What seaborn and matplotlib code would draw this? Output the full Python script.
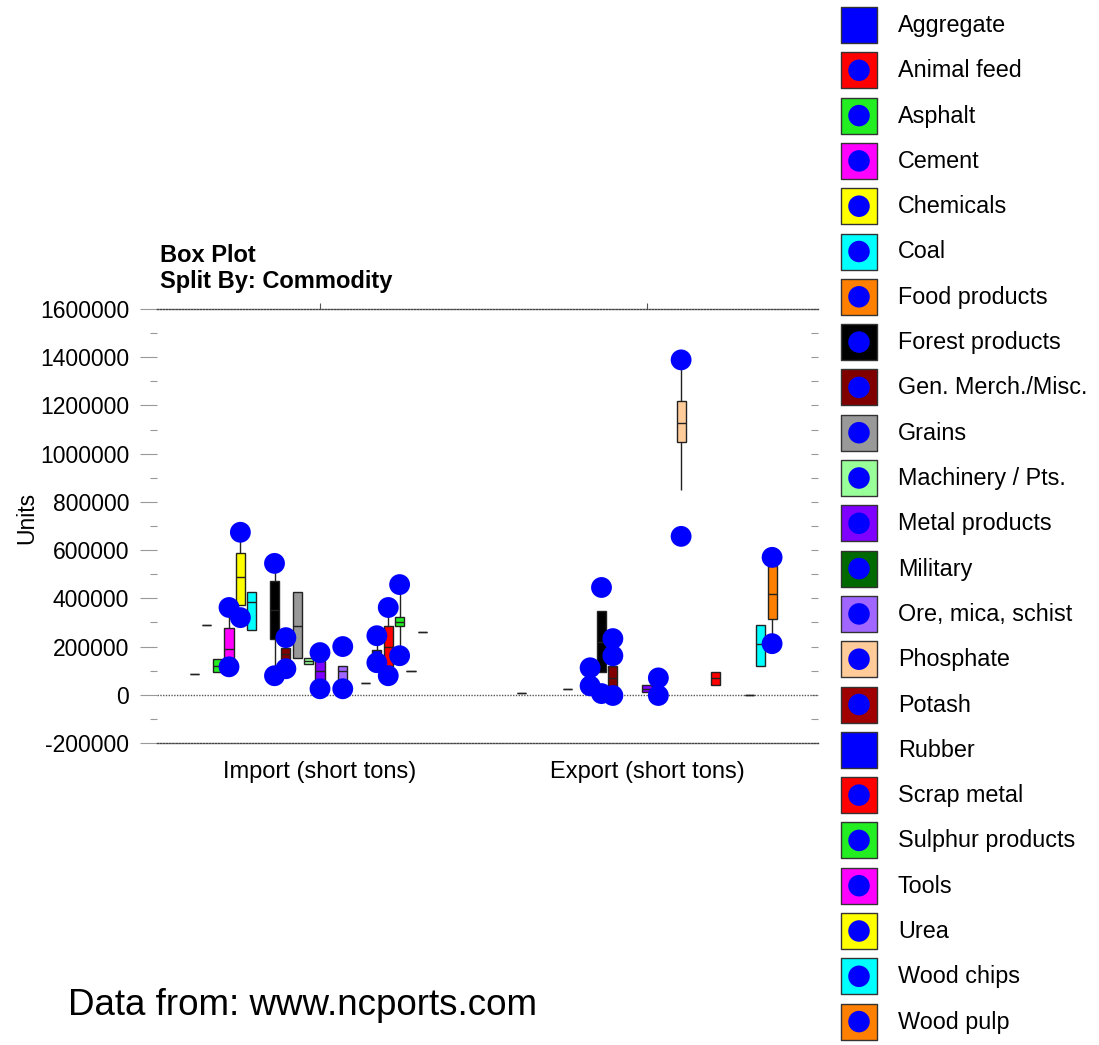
import numpy as np
import pandas as pd
import matplotlib
matplotlib.use("Agg")
import matplotlib.pyplot as plt
import seaborn as sns
from matplotlib.ticker import MultipleLocator, FuncFormatter

# ---------------- data ----------------
commodities = ["Aggregate", "Animal feed", "Asphalt", "Cement", "Chemicals", "Coal",
               "Food products", "Forest products", "Gen. Merch./Misc.", "Grains",
               "Machinery / Pts.", "Metal products", "Military", "Ore, mica, schist",
               "Phosphate", "Potash", "Rubber", "Scrap metal", "Sulphur products",
               "Tools", "Urea", "Wood chips", "Wood pulp"]
colors = ["#0000FF", "#FF0000", "#22EE22", "#FF00FF", "#FFFF00", "#00FFFF",
          "#FF8000", "#000000", "#800000", "#999999",
          "#99FF99", "#8000FF", "#006A00", "#A066FF",
          "#FFCC99", "#A00000", "#0000FF", "#FF0000", "#22EE22",
          "#FF00FF", "#FFFF00", "#00FFFF", "#FF8000"]
groups = ["Import (short tons)", "Export (short tons)"]

# Import boxes: lower whisker, Q1, median, Q3, upper whisker
imp_names = ["Aggregate", "Animal feed", "Asphalt", "Cement", "Chemicals", "Coal",
             "Forest products", "Gen. Merch./Misc.", "Grains", "Machinery / Pts.",
             "Metal products", "Ore, mica, schist", "Potash", "Rubber", "Scrap metal",
             "Sulphur products", "Tools", "Urea"]
imp_lo  = [87000, 291000,  96000, 116000, 374000, 270000,  87000, 150000, 154000, 129000,
           60000,  58000, 50000, 140000, 100000, 175000, 100000, 262000]
imp_q1  = [87000, 291000,  96000, 116000, 374000, 270000, 233000, 150000, 154000, 129000,
           60000,  58000, 50000, 140000, 121000, 287000, 100000, 262000]
imp_med = [87000, 291000, 120000, 191000, 487000, 383000, 350000, 170000, 287000, 141000,
           100000, 100000, 50000, 165000, 200000, 300000, 100000, 262000]
imp_q3  = [87000, 291000, 150000, 279000, 586000, 428000, 470000, 196000, 428000, 154000,
           140000, 121000, 50000, 187000, 287000, 324000, 100000, 262000]
imp_hi  = [87000, 291000, 150000, 330000, 650000, 428000, 520000, 196000, 428000, 154000,
           140000, 121000, 50000, 230000, 340000, 440000, 100000, 262000]

# Import outliers
imp_out_names = ["Cement", "Cement", "Chemicals", "Chemicals", "Forest products", "Forest products",
                 "Gen. Merch./Misc.", "Gen. Merch./Misc.", "Metal products", "Metal products",
                 "Ore, mica, schist", "Ore, mica, schist", "Rubber", "Rubber",
                 "Scrap metal", "Scrap metal", "Sulphur products", "Sulphur products"]
imp_out_vals = [362000, 116000, 674000, 320000, 545000, 79000,
                237000, 108000, 175000, 25000,
                200000, 25000, 245000, 133000,
                362000, 79000, 457000, 162000]

# Export boxes
exp_names = ["Aggregate", "Chemicals", "Forest products", "Gen. Merch./Misc.", "Metal products",
             "Phosphate", "Scrap metal", "Urea", "Wood chips", "Wood pulp"]
exp_lo  = [8000, 25000,  96000,  29000, 12000,  848000, 42000, -2000, 121000, 230000]
exp_q1  = [8000, 25000,  96000,  29000, 12000, 1048000, 42000, -2000, 121000, 316000]
exp_med = [8000, 25000, 220000,  70000, 25000, 1127000, 70000, -2000, 212000, 420000]
exp_q3  = [8000, 25000, 349000, 120000, 42000, 1218000, 96000, -2000, 291000, 536000]
exp_hi  = [8000, 25000, 349000, 120000, 42000, 1375000, 96000, -2000, 291000, 555000]

# Export outliers
exp_out_names = ["Food products", "Food products", "Forest products", "Forest products",
                 "Gen. Merch./Misc.", "Gen. Merch./Misc.", "Gen. Merch./Misc.",
                 "Military", "Military", "Phosphate", "Phosphate", "Wood pulp", "Wood pulp"]
exp_out_vals = [112000, 37000, 445000, 5000,
                233000, 162000, -3000,
                70000, -3000, 1389000, 657000, 570000, 212000]

# ---------------- build tables ----------------
rows = []
for g, names, lo, q1, md, q3, hi in [
        (groups[0], imp_names, imp_lo, imp_q1, imp_med, imp_q3, imp_hi),
        (groups[1], exp_names, exp_lo, exp_q1, exp_med, exp_q3, exp_hi)]:
    for n, a, b, c, d, e in zip(names, lo, q1, md, q3, hi):
        for v in (a, b, c, d, e):
            rows.append((g, n, v))
box_df = pd.DataFrame(rows, columns=["Direction", "Commodity", "Units"])

out_rows = [(groups[0], n, v) for n, v in zip(imp_out_names, imp_out_vals)] + \
           [(groups[1], n, v) for n, v in zip(exp_out_names, exp_out_vals)]
out_df = pd.DataFrame(out_rows, columns=["Direction", "Commodity", "Units"])

# ---------------- style ----------------
sns.set_theme(style="white")
plt.rcParams["font.family"] = ["Liberation Sans", "DejaVu Sans"]
plt.rcParams["text.color"] = "black"
plt.rcParams["axes.labelcolor"] = "black"
plt.rcParams["xtick.labelcolor"] = "black"
plt.rcParams["ytick.labelcolor"] = "black"

W, H = 1099, 1045
fig = plt.figure(figsize=(W / 100, H / 100), dpi=100)
fig.patch.set_facecolor("white")
ax = fig.add_axes([157 / W, 1 - 743 / H, 661 / W, 434 / H])

palette = dict(zip(commodities, colors))
sns.boxplot(data=box_df, x="Direction", y="Units", hue="Commodity",
            order=groups, hue_order=commodities, palette=palette,
            whis=(0, 100), dodge=True, width=0.8, gap=0.2,
            linewidth=1, linecolor="#222222", saturation=1,
            showfliers=False, showcaps=False, legend=False, ax=ax)
sns.stripplot(data=out_df, x="Direction", y="Units", hue="Commodity",
              order=groups, hue_order=commodities,
              palette={c: "#0000FF" for c in commodities},
              dodge=True, jitter=False, size=15, linewidth=0,
              legend=False, ax=ax, zorder=5)

ax.axhline(0, color="#555555", lw=1, ls=(0, (1, 1)), zorder=0.5)
ax.set_xlim(-0.4985, 1.523)
ax.set_ylim(-200000, 1600000)
ax.set_xlabel("")
ax.set_ylabel("")
ax.yaxis.set_major_locator(MultipleLocator(200000))
ax.yaxis.set_minor_locator(MultipleLocator(100000))
ax.yaxis.set_major_formatter(FuncFormatter(lambda v, p: f"{int(round(v))}"))
for s in ["left", "right"]:
    ax.spines[s].set_visible(False)
for s in ["top", "bottom"]:
    ax.spines[s].set_linestyle((0, (1, 1.2)))
    ax.spines[s].set_color("#444444")
    ax.spines[s].set_linewidth(1)
ax.tick_params(axis="y", which="major", left=True, direction="out", length=12,
               width=0.8, color="#999999", labelsize=16.5, pad=8)
ax.tick_params(axis="y", which="minor", left=True, direction="out", length=5,
               width=0.8, color="#999999")
ax.tick_params(axis="x", bottom=False, top=True, direction="out", length=4,
               width=0.8, color="#555555", labelsize=17, pad=9)

sec = ax.secondary_yaxis("right")
sec.spines["right"].set_visible(False)
sec.yaxis.set_major_locator(MultipleLocator(200000))
sec.yaxis.set_minor_locator(MultipleLocator(100000))
sec.tick_params(axis="y", which="both", direction="in", length=5, width=0.8,
                color="#999999", labelright=False)

# ---------------- overlay: titles, legend, credit ----------------
lax = fig.add_axes([0, 0, 1, 1])
lax.set_xlim(0, W)
lax.set_ylim(H, 0)
lax.set_axis_off()
lax.patch.set_visible(False)

lax.text(160, 262, "Box Plot", fontsize=17, fontweight="bold", va="baseline", ha="left")
lax.text(160, 288, "Split By: Commodity", fontsize=17, fontweight="bold", va="baseline", ha="left")
lax.text(27, 518, "Units", fontsize=16.5, rotation=90, ha="center", va="center")
lax.text(68, 1015, "Data from: www.ncports.com", fontsize=26.5, va="baseline", ha="left")

for i, (name, col) in enumerate(zip(commodities, colors)):
    y = 25 + 45.3 * i
    lax.scatter([859], [y], marker="s", s=26 ** 2, c=[col], edgecolors="#333333", linewidths=1)
    lax.scatter([859], [y], marker="o", s=15.5 ** 2, c=["#0000FF"], edgecolors="none")
    lax.text(898, y + 7, name, fontsize=16.8, va="baseline", ha="left")

fig.savefig("out.png", dpi=100, facecolor="white")
